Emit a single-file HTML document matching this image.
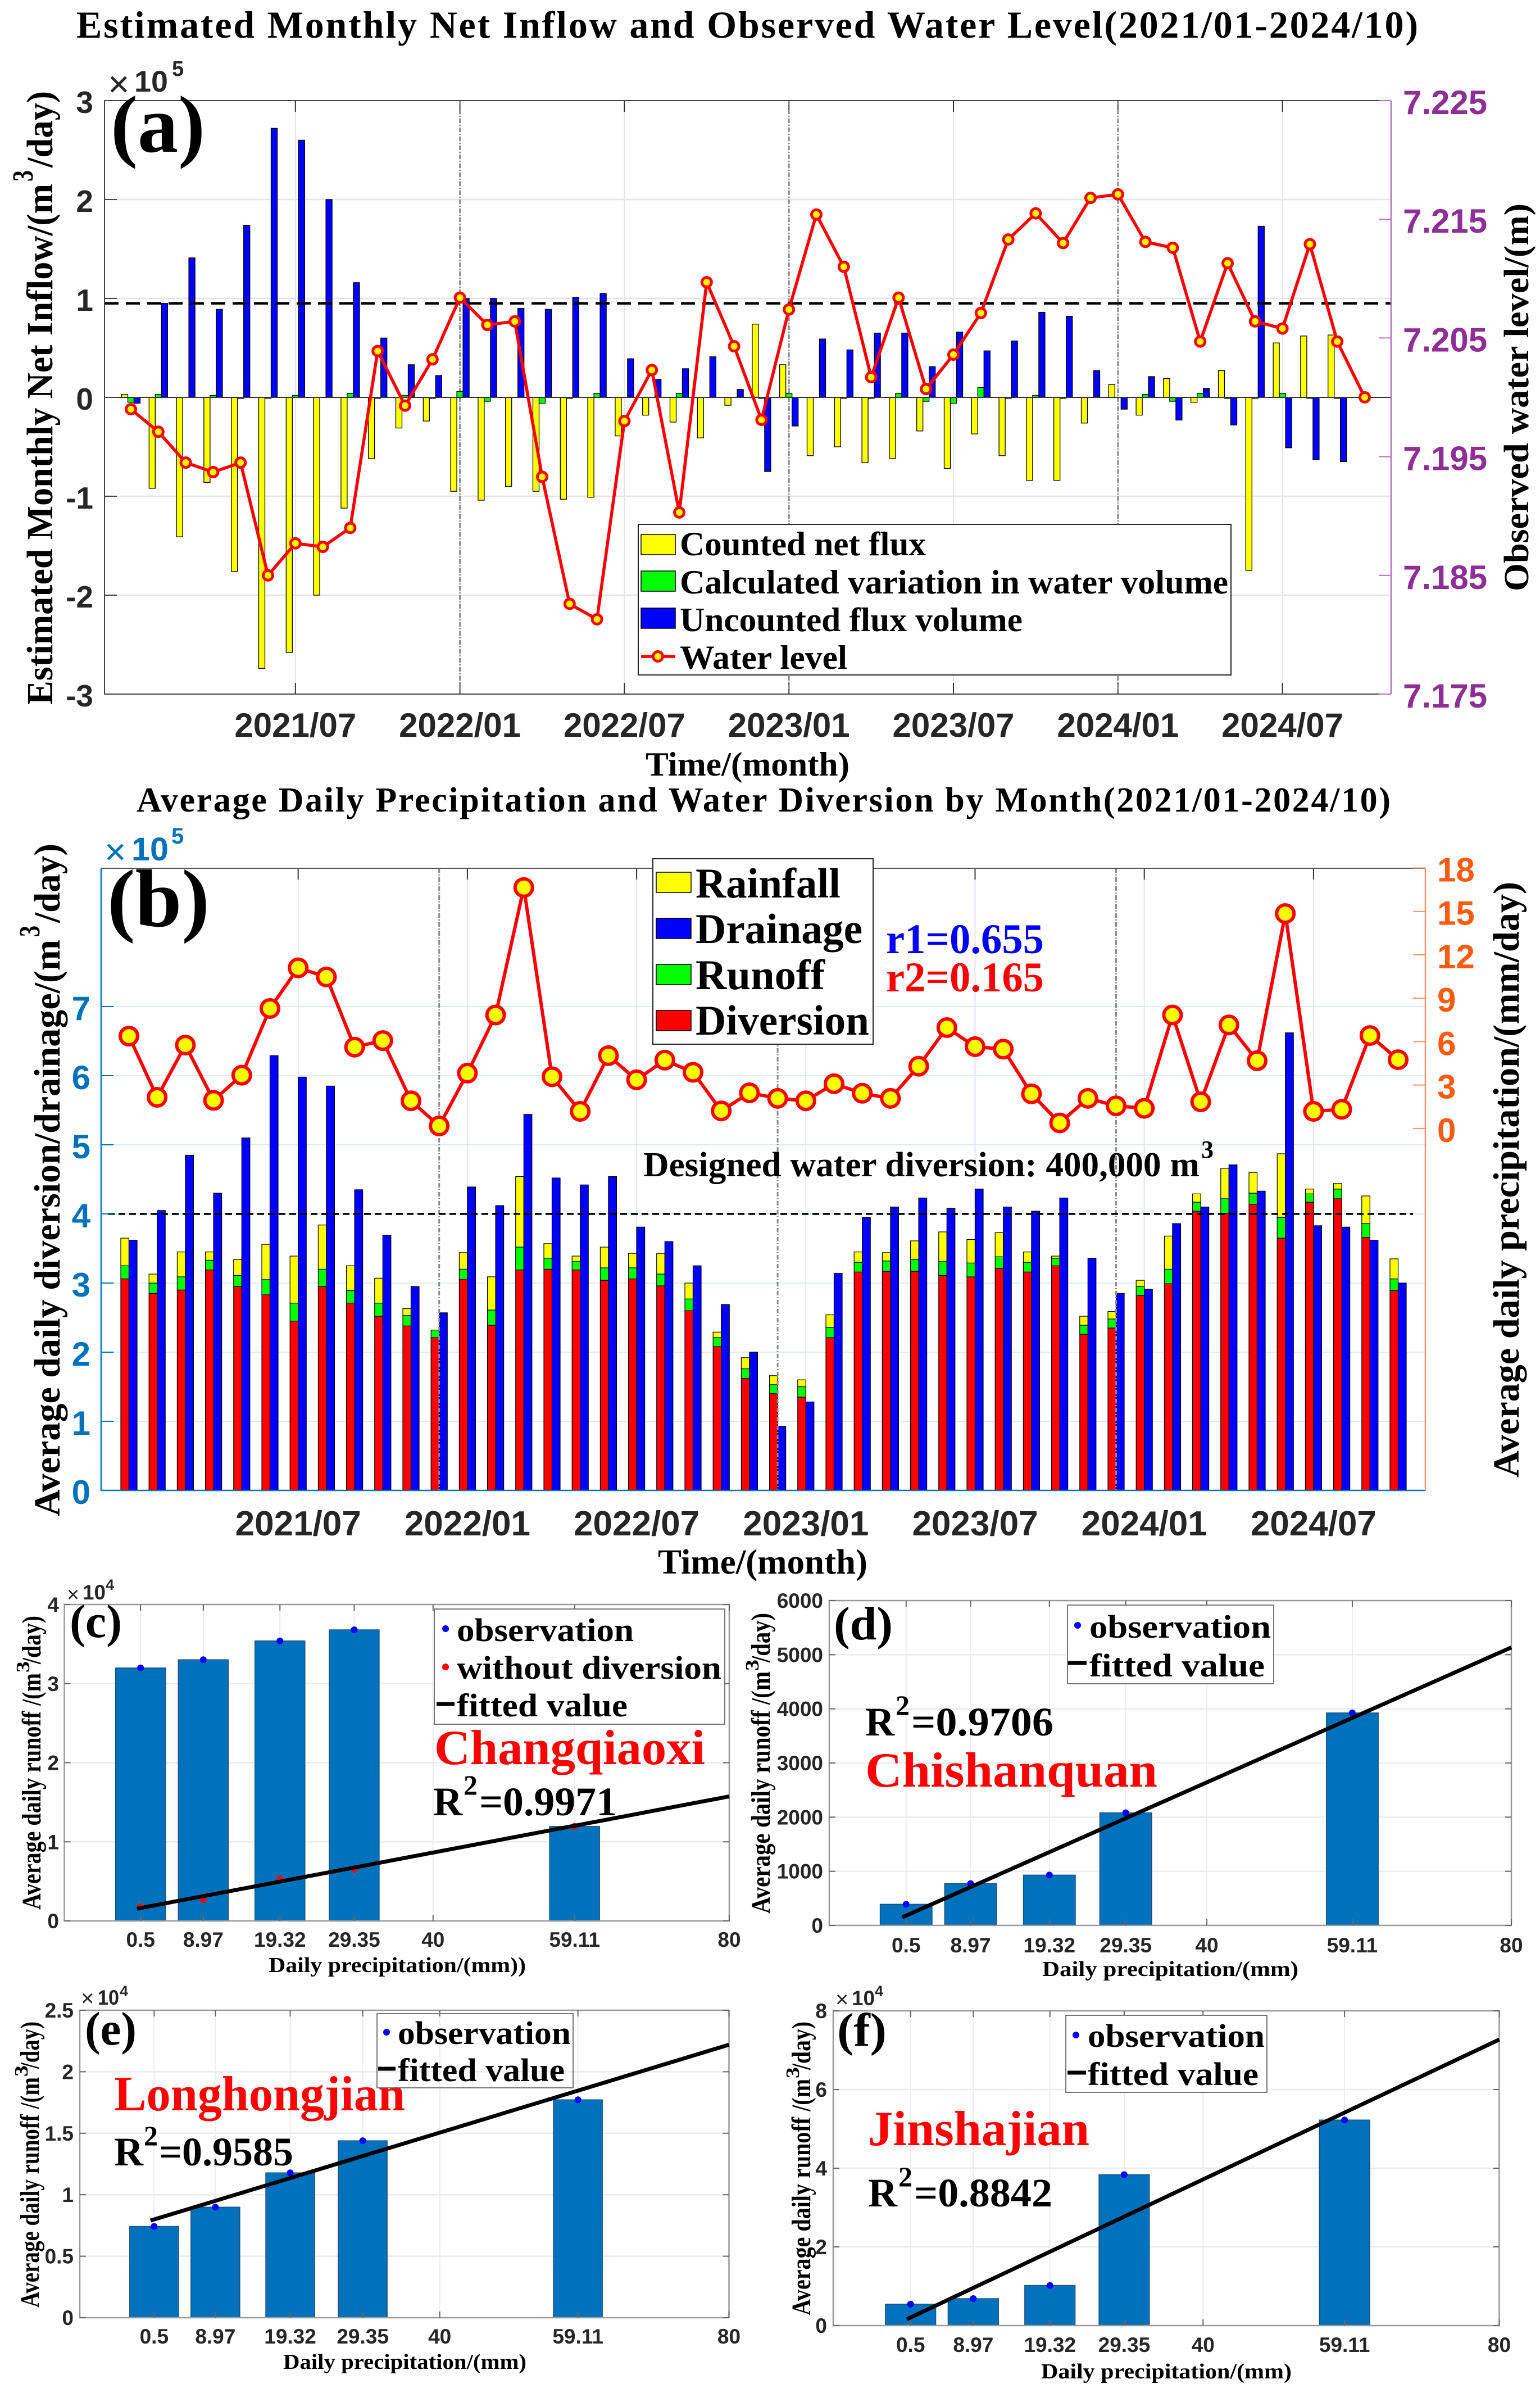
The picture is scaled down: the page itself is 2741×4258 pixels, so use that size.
<!DOCTYPE html>
<html lang="en">
<head>
<meta charset="utf-8">
<title>Net inflow, water level, diversion and runoff charts</title>
<style>
html,body{margin:0;padding:0;background:#fff;}
svg{display:block;}
.serif{font-family:"Liberation Serif",serif;font-weight:bold;fill:#000;}
.sans{font-family:"Liberation Sans",sans-serif;font-weight:bold;fill:#262626;}
.thin{font-family:"Liberation Sans",sans-serif;font-weight:normal;fill:#262626;}
</style>
</head>
<body>
<svg id="root" xmlns="http://www.w3.org/2000/svg" width="2741" height="4258" viewBox="0 0 2741 4258">
<rect x="0" y="0" width="2741" height="4258" fill="#fff"/>

<text class="serif" x="136" y="67" font-size="68" textLength="2388" lengthAdjust="spacing">Estimated Monthly Net Inflow and Observed Water Level(2021/01-2024/10)</text>
<g id="panel-a"></g>
<text class="serif" x="197" y="270" font-size="144" textLength="168" lengthAdjust="spacingAndGlyphs">(a)</text>
<text class="thin" x="192" y="172" font-size="66">×</text>
<text class="sans" x="239" y="163" font-size="53" textLength="60" lengthAdjust="spacingAndGlyphs">10</text>
<text class="sans" x="306" y="135" font-size="38">5</text>
<text class="serif" transform="translate(93,1254) rotate(-90)" font-size="66" textLength="927" lengthAdjust="spacingAndGlyphs">Estimated Monthly Net Inflow/(m</text>
<text class="serif" transform="translate(58,323) rotate(-90)" font-size="52" textLength="20" lengthAdjust="spacingAndGlyphs">3</text>
<text class="serif" transform="translate(93,298) rotate(-90)" font-size="66" textLength="136" lengthAdjust="spacingAndGlyphs">/day)</text>
<text class="serif" transform="translate(2720,1052) rotate(-90)" font-size="62" textLength="690" lengthAdjust="spacingAndGlyphs">Observed water level/(m)</text>
<text class="serif" x="1149" y="1380" font-size="60" textLength="363" lengthAdjust="spacingAndGlyphs">Time/(month)</text>
<g>
  <rect x="1136" y="933" width="1055" height="268" fill="#fff" stroke="#262626" stroke-width="2"/>
  <rect x="1141" y="951" width="61" height="36" fill="#ffff00" stroke="#000" stroke-width="1.5"/>
  <rect x="1141" y="1016" width="61" height="36" fill="#00ff00" stroke="#000" stroke-width="1.5"/>
  <rect x="1141" y="1082" width="61" height="36" fill="#0000ff" stroke="#000" stroke-width="1.5"/>
  <line x1="1141" x2="1202" y1="1168" y2="1168" stroke="#ff0000" stroke-width="5.5"/>
  <circle cx="1171" cy="1168" r="8.5" fill="#ffff00" stroke="#ff0000" stroke-width="5"/>
  <text class="serif" x="1210" y="988" font-size="60" textLength="438" lengthAdjust="spacingAndGlyphs">Counted net flux</text>
  <text class="serif" x="1210" y="1056" font-size="60" textLength="976" lengthAdjust="spacingAndGlyphs">Calculated variation in water volume</text>
  <text class="serif" x="1210" y="1123" font-size="60" textLength="610" lengthAdjust="spacingAndGlyphs">Uncounted flux volume</text>
  <text class="serif" x="1210" y="1190" font-size="60" textLength="298" lengthAdjust="spacingAndGlyphs">Water level</text>
</g>

<text class="serif" x="243" y="1444" font-size="62" textLength="2232" lengthAdjust="spacing">Average Daily Precipitation and Water Diversion by Month(2021/01-2024/10)</text>
<g id="panel-b"></g>
<text class="serif" x="191" y="1648" font-size="146" textLength="182" lengthAdjust="spacingAndGlyphs">(b)</text>
<text class="thin" style="fill:#0072bd" x="186" y="1538" font-size="66">×</text>
<text class="sans" style="fill:#0072bd" x="234" y="1531" font-size="58" textLength="66" lengthAdjust="spacingAndGlyphs">10</text>
<text class="sans" style="fill:#0072bd" x="305" y="1501" font-size="40">5</text>
<text class="serif" transform="translate(106,2698) rotate(-90)" font-size="66" textLength="1026" lengthAdjust="spacingAndGlyphs">Average daily diversion/drainage/(m</text>
<text class="serif" transform="translate(70,1667) rotate(-90)" font-size="52" textLength="20" lengthAdjust="spacingAndGlyphs">3</text>
<text class="serif" transform="translate(106,1642) rotate(-90)" font-size="66" textLength="141" lengthAdjust="spacingAndGlyphs">/day)</text>
<text class="serif" transform="translate(2703,2629) rotate(-90)" font-size="66" textLength="1060" lengthAdjust="spacingAndGlyphs">Average daily precipitation/(mm/day)</text>
<text class="serif" x="1171" y="2800" font-size="62" textLength="373" lengthAdjust="spacingAndGlyphs">Time/(month)</text>
<text class="serif" x="1145" y="2093" font-size="62" textLength="990" lengthAdjust="spacingAndGlyphs">Designed water diversion: 400,000 m</text>
<text class="serif" x="2138" y="2060" font-size="44">3</text>
<text class="serif" style="fill:#0000ff" x="1577" y="1696" font-size="75" textLength="281" lengthAdjust="spacingAndGlyphs">r1=0.655</text>
<text class="serif" style="fill:#ff0000" x="1577" y="1764" font-size="75" textLength="281" lengthAdjust="spacingAndGlyphs">r2=0.165</text>
<g>
  <rect x="1162" y="1528" width="392" height="330" fill="#fff" stroke="#262626" stroke-width="2"/>
  <rect x="1168" y="1552" width="62" height="36" fill="#ffff00" stroke="#000" stroke-width="1.5"/>
  <rect x="1168" y="1634" width="62" height="36" fill="#0000ff" stroke="#000" stroke-width="1.5"/>
  <rect x="1168" y="1716" width="62" height="36" fill="#00ff00" stroke="#000" stroke-width="1.5"/>
  <rect x="1168" y="1798" width="62" height="36" fill="#ff0000" stroke="#000" stroke-width="1.5"/>
  <text class="serif" x="1238" y="1597" font-size="75" textLength="258" lengthAdjust="spacingAndGlyphs">Rainfall</text>
  <text class="serif" x="1238" y="1678" font-size="75" textLength="297" lengthAdjust="spacingAndGlyphs">Drainage</text>
  <text class="serif" x="1238" y="1760" font-size="75" textLength="230" lengthAdjust="spacingAndGlyphs">Runoff</text>
  <text class="serif" x="1238" y="1841" font-size="75" textLength="309" lengthAdjust="spacingAndGlyphs">Diversion</text>
</g>

<g id="panel-c"></g>
<text class="serif" x="124" y="2913" font-size="84" textLength="93" lengthAdjust="spacingAndGlyphs">(c)</text>
<text class="thin" x="119" y="2850" font-size="38">×</text>
<text class="sans" x="147" y="2846" font-size="37" textLength="41" lengthAdjust="spacingAndGlyphs">10</text>
<text class="sans" x="188" y="2829" font-size="27">4</text>
<text class="serif" transform="translate(72,3398) rotate(-90)" font-size="48" textLength="421" lengthAdjust="spacingAndGlyphs">Average daily runoff /(m</text>
<text class="serif" transform="translate(52,2976) rotate(-90)" font-size="34" textLength="20" lengthAdjust="spacingAndGlyphs">3</text>
<text class="serif" transform="translate(72,2961) rotate(-90)" font-size="48" textLength="86" lengthAdjust="spacingAndGlyphs">/day)</text>
<text class="serif" x="478" y="3509" font-size="38" textLength="458" lengthAdjust="spacingAndGlyphs">Daily precipitation/(mm))</text>
<g>
  <rect x="773" y="2863" width="517" height="205" fill="#fff" stroke="#777" stroke-width="2"/>
  <circle cx="793" cy="2898" r="6" fill="#0000ff"/>
  <circle cx="793" cy="2966" r="6" fill="#ff0000"/>
  <line x1="777" x2="809" y1="3032" y2="3032" stroke="#000" stroke-width="7"/>
  <text class="serif" x="813" y="2920" font-size="58" textLength="315" lengthAdjust="spacingAndGlyphs">observation</text>
  <text class="serif" x="813" y="2987" font-size="58" textLength="471" lengthAdjust="spacingAndGlyphs">without diversion</text>
  <text class="serif" x="813" y="3054" font-size="58" textLength="304" lengthAdjust="spacingAndGlyphs">fitted value</text>
</g>
<text class="serif" style="fill:#ff0000" x="773" y="3139" font-size="88" textLength="482" lengthAdjust="spacingAndGlyphs">Changqiaoxi</text>
<text class="serif" x="771" y="3230" font-size="72">R</text>
<text class="serif" x="825" y="3193" font-size="50">2</text>
<text class="serif" x="853" y="3230" font-size="72" textLength="245" lengthAdjust="spacingAndGlyphs">=0.9971</text>

<g id="panel-d"></g>
<text class="serif" x="1484" y="2917" font-size="84" textLength="105" lengthAdjust="spacingAndGlyphs">(d)</text>
<text class="serif" transform="translate(1370,3405) rotate(-90)" font-size="48" textLength="431" lengthAdjust="spacingAndGlyphs">Average daily runoff /(m</text>
<text class="serif" transform="translate(1350,2973) rotate(-90)" font-size="34" textLength="20" lengthAdjust="spacingAndGlyphs">3</text>
<text class="serif" transform="translate(1370,2958) rotate(-90)" font-size="48" textLength="88" lengthAdjust="spacingAndGlyphs">/day)</text>
<text class="serif" x="1855" y="3516" font-size="38" textLength="456" lengthAdjust="spacingAndGlyphs">Daily precipitation/(mm)</text>
<g>
  <rect x="1900" y="2856" width="367" height="140" fill="#fff" stroke="#777" stroke-width="2"/>
  <circle cx="1918" cy="2892" r="6" fill="#0000ff"/>
  <line x1="1901" x2="1934" y1="2959" y2="2959" stroke="#000" stroke-width="7"/>
  <text class="serif" x="1939" y="2914" font-size="58" textLength="323" lengthAdjust="spacingAndGlyphs">observation</text>
  <text class="serif" x="1939" y="2983" font-size="58" textLength="312" lengthAdjust="spacingAndGlyphs">fitted value</text>
</g>
<text class="serif" style="fill:#ff0000" x="1540" y="3179" font-size="88" textLength="520" lengthAdjust="spacingAndGlyphs">Chishanquan</text>
<text class="serif" x="1540" y="3088" font-size="72">R</text>
<text class="serif" x="1594" y="3051" font-size="50">2</text>
<text class="serif" x="1622" y="3088" font-size="72" textLength="253" lengthAdjust="spacingAndGlyphs">=0.9706</text>

<g id="panel-e"></g>
<text class="serif" x="151" y="3638" font-size="84" textLength="92" lengthAdjust="spacingAndGlyphs">(e)</text>
<text class="thin" x="144" y="3569" font-size="40">×</text>
<text class="sans" x="174" y="3567" font-size="37" textLength="38" lengthAdjust="spacingAndGlyphs">10</text>
<text class="sans" x="213" y="3552" font-size="27">4</text>
<text class="serif" transform="translate(69,4106) rotate(-90)" font-size="48" textLength="410" lengthAdjust="spacingAndGlyphs">Average daily runoff /(m</text>
<text class="serif" transform="translate(49,3695) rotate(-90)" font-size="34" textLength="20" lengthAdjust="spacingAndGlyphs">3</text>
<text class="serif" transform="translate(69,3681) rotate(-90)" font-size="48" textLength="84" lengthAdjust="spacingAndGlyphs">/day)</text>
<text class="serif" x="504" y="4215" font-size="38" textLength="433" lengthAdjust="spacingAndGlyphs">Daily precipitation/(mm)</text>
<text class="serif" style="fill:#ff0000" x="203" y="3755" font-size="88" textLength="518" lengthAdjust="spacingAndGlyphs">Longhongjian</text>
<g>
  <rect x="671" y="3583" width="349" height="132" fill="none" stroke="#777" stroke-width="2"/>
  <circle cx="688" cy="3616" r="6" fill="#0000ff"/>
  <line x1="673" x2="704" y1="3681" y2="3681" stroke="#000" stroke-width="7"/>
  <text class="serif" x="708" y="3637" font-size="58" textLength="308" lengthAdjust="spacingAndGlyphs">observation</text>
  <text class="serif" x="708" y="3703" font-size="58" textLength="297" lengthAdjust="spacingAndGlyphs">fitted value</text>
</g>
<text class="serif" x="203" y="3853" font-size="72">R</text>
<text class="serif" x="256" y="3817" font-size="50">2</text>
<text class="serif" x="283" y="3853" font-size="72" textLength="239" lengthAdjust="spacingAndGlyphs">=0.9585</text>

<g id="panel-f"></g>
<text class="serif" x="1490" y="3640" font-size="84" textLength="88" lengthAdjust="spacingAndGlyphs">(f)</text>
<text class="thin" x="1487" y="3571" font-size="40">×</text>
<text class="sans" x="1516" y="3568" font-size="37" textLength="41" lengthAdjust="spacingAndGlyphs">10</text>
<text class="sans" x="1557" y="3552" font-size="27">4</text>
<text class="serif" transform="translate(1442,4120) rotate(-90)" font-size="48" textLength="421" lengthAdjust="spacingAndGlyphs">Average daily runoff /(m</text>
<text class="serif" transform="translate(1422,3698) rotate(-90)" font-size="34" textLength="20" lengthAdjust="spacingAndGlyphs">3</text>
<text class="serif" transform="translate(1442,3683) rotate(-90)" font-size="48" textLength="86" lengthAdjust="spacingAndGlyphs">/day)</text>
<text class="serif" x="1853" y="4232" font-size="38" textLength="446" lengthAdjust="spacingAndGlyphs">Daily precipitation/(mm)</text>
<g>
  <rect x="1897" y="3586" width="358" height="137" fill="#fff" stroke="#777" stroke-width="2"/>
  <circle cx="1915" cy="3621" r="6" fill="#0000ff"/>
  <line x1="1900" x2="1933" y1="3688" y2="3688" stroke="#000" stroke-width="7"/>
  <text class="serif" x="1936" y="3642" font-size="58" textLength="315" lengthAdjust="spacingAndGlyphs">observation</text>
  <text class="serif" x="1936" y="3710" font-size="58" textLength="304" lengthAdjust="spacingAndGlyphs">fitted value</text>
</g>
<text class="serif" style="fill:#ff0000" x="1545" y="3817" font-size="88" textLength="394" lengthAdjust="spacingAndGlyphs">Jinshajian</text>
<text class="serif" x="1545" y="3926" font-size="72">R</text>
<text class="serif" x="1599" y="3890" font-size="50">2</text>
<text class="serif" x="1627" y="3926" font-size="72" textLength="246" lengthAdjust="spacingAndGlyphs">=0.8842</text>
</svg>

<script>
// ---------- Panel (a) data ----------
const aCounted = [0.03,-0.92,-1.41,-0.86,-1.76,-2.74,-2.58,-2.0,-1.12,-0.62,-0.31,-0.24,-0.95,-1.04,-0.9,-0.95,-1.03,-1.01,-0.39,-0.18,-0.25,-0.41,-0.08,0.74,0.33,-0.59,-0.5,-0.66,-0.62,-0.34,-0.72,-0.37,-0.59,-0.84,-0.84,-0.26,0.13,-0.18,0.19,-0.05,0.27,-1.75,0.55,0.62,0.63];
const aCalculated = [-0.05,0.03,0,0.02,-0.01,-0.01,0.02,0,0.04,-0.01,0.02,-0.01,0.06,-0.04,0,-0.06,-0.01,0.04,0,0,0.04,0,0,-0.01,0.04,0,-0.01,-0.01,0.04,-0.04,-0.06,0.1,-0.01,0.02,-0.01,0,0,0.03,-0.04,0.04,-0.01,-0.01,0.04,-0.01,-0.01];
const aUncounted = [-0.06,0.95,1.41,0.89,1.74,2.72,2.6,2.0,1.16,0.6,0.33,0.22,1.0,1.0,0.9,0.89,1.01,1.05,0.39,0.18,0.29,0.41,0.08,-0.75,-0.29,0.59,0.48,0.65,0.65,0.31,0.66,0.47,0.57,0.86,0.82,0.27,-0.12,0.21,-0.23,0.09,-0.28,1.73,-0.51,-0.63,-0.65];
const aWaterLevel = [7.1990,7.1971,7.1945,7.1937,7.1945,7.1850,7.1877,7.1874,7.1890,7.2039,7.1993,7.2032,7.2084,7.2061,7.2064,7.1933,7.1826,7.1813,7.1980,7.2023,7.1903,7.2097,7.2043,7.1981,7.2074,7.2154,7.2110,7.2017,7.2084,7.2007,7.2036,7.2071,7.2133,7.2155,7.2130,7.2168,7.2171,7.2131,7.2126,7.2047,7.2113,7.2064,7.2058,7.2129,7.2047,7.2000];
const aReference = [0.95];
const aYTicks = [-3,-2,-1,0,1,2,3];
const aLevelTicks = [7.175,7.185,7.195,7.205,7.215,7.225];
const monthTickIndex = [6,12,18,24,30,36,42];
const monthTickLabels = ['2021/07','2022/01','2022/07','2023/01','2023/07','2024/01','2024/07'];
const aYearMarks = [12,24,36];

// ---------- Panel (b) data ----------
const bDiversion = [3.06,2.85,2.90,3.19,2.95,2.83,2.45,2.95,2.71,2.52,2.38,2.21,3.05,2.39,3.19,3.20,3.19,3.04,3.06,2.96,2.60,2.08,1.62,1.40,1.35,2.21,3.16,3.17,3.17,3.11,3.09,3.21,3.16,3.25,2.26,2.35,2.82,2.99,4.04,4.01,4.14,3.65,4.17,4.22,3.66,2.89];
const bRunoff = [.19,.15,.19,.14,.16,.22,.26,.25,.18,.19,.15,.11,.15,.22,.33,.16,.12,.18,.16,.17,.17,.13,.14,.13,.15,.15,.14,.15,.17,.20,.20,.17,.14,.11,.13,.13,.13,.21,.13,.21,.16,.30,.12,.14,.20,.17];
const bRainfall = [.40,.13,.36,.12,.23,.51,.68,.64,.36,.36,.10,.0,.24,.48,1.02,.21,.08,.30,.21,.30,.23,.08,.16,.13,.10,.18,.15,.12,.27,.43,.34,.35,.15,.03,.13,.11,.09,.48,.12,.44,.30,.92,.07,.08,.40,.29];
const bDrainage = [3.62,4.05,4.85,4.30,5.10,6.29,5.98,5.85,4.35,3.69,2.95,2.57,4.39,4.12,5.44,4.52,4.42,4.54,3.81,3.60,3.25,2.69,2.00,.93,1.28,3.14,3.95,4.10,4.23,4.08,4.36,4.10,4.04,4.23,3.36,2.85,2.91,3.86,4.10,4.71,4.33,6.62,3.83,3.81,3.62,3.0];
const bPrecip = [6.38,2.15,5.76,1.94,3.68,8.29,11.1,10.47,5.62,6.07,1.91,0.17,3.82,7.84,16.65,3.57,1.18,5.03,3.36,4.72,3.88,1.21,2.46,2.08,1.91,3.09,2.43,2.08,4.30,6.97,5.65,5.48,2.39,0.38,2.08,1.56,1.39,7.84,1.84,7.15,4.68,14.85,1.18,1.32,6.42,4.75];
const bDesign = [4];
const bYTicks = [0,1,2,3,4,5,6,7];
const bPrecipTicks = [0,3,6,9,12,15,18];
const bYearMarks = [11,23,35];

// ---------- Panels (c)-(f) data ----------
const rainX = [0.5,8.97,19.32,29.35,59.11];
const rainTicks = [0.5,8.97,19.32,29.35,40,59.11,80];
const cObserved = [3.198,3.302,3.54,3.68,1.195];
const cWithout = [0.178,0.268,0.53,0.654,1.195];
const cFitX = [0,80];
const cFitY = [0.154,1.574];
const cTicks = [0,1,2,3,4];
const dObserved = [391,772,930,2080,3925];
const dFitX = [0,80];
const dFitY = [150,5135];
const dTicks = [0,1000,2000,3000,4000,5000,6000];
const eObserved = [0.742,0.899,1.178,1.439,1.772];
const eFitX = [0,80];
const eFitY = [0.79,2.22];
const eTicks = [0,0.5,1,1.5,2,2.5];
const fObserved = [0.544,0.685,1.02,3.835,5.225];
const fFitX = [0,80];
const fFitY = [0.16,7.27];
const fTicks = [0,2,4,6,8];

const NS = 'http://www.w3.org/2000/svg';
function add(parent, tag, attrs) {
  const el = document.createElementNS(NS, tag);
  for (const k in attrs) el.setAttribute(k, attrs[k]);
  parent.appendChild(el);
  return el;
}
function label(parent, x, y, str, size, anchor, color) {
  const t = add(parent, 'text', {x: x, y: y, 'font-size': size, 'text-anchor': anchor, 'class': 'sans', style: 'fill:' + color});
  t.textContent = str;
  return t;
}

// ---------- Draw panel (a) ----------
(function () {
  const g = document.getElementById('panel-a');
  const L = 186, R = 2476, T = 179, B = 1235;
  const x = i => 233 + 48.8 * i;
  const y = v => 707 - (v) * 176;
  const yL = v => B - (v - 7.175) / 0.05 * (B - T);
  aYTicks.forEach(v => {
    if (v === 3 || v === -3 || v === 0) return;
    const l = add(g, 'line', {x1: L, x2: R, y1: y(v), y2: y(v), stroke: '#e4e4e4', 'stroke-width': 2.5});
    
    
  });
  monthTickIndex.forEach(i => {
    const l = add(g, 'line', {x1: x(i), x2: x(i), y1: T, y2: B, stroke: '#e4e4e4', 'stroke-width': 2});
    
    
    const t1 = add(g, 'line', {x1: x(i), x2: x(i), y1: T, y2: T + 20, stroke: '#333', 'stroke-width': 2});
    
    
    const t2 = add(g, 'line', {x1: x(i), x2: x(i), y1: B, y2: B - 20, stroke: '#333', 'stroke-width': 2});
    
    
  });
  aYearMarks.forEach(i => {
    const l = add(g, 'line', {x1: x(i), x2: x(i), y1: T, y2: B, stroke: '#8a8a8a', 'stroke-width': 3, 'stroke-dasharray': '8 3 2 3'});
    
    
  });
  const series = [[aCounted, -11, '#ffff00', 'counted-bar'], [aCalculated, 0, '#00ff00', 'calculated-bar'], [aUncounted, 11, '#0000ff', 'uncounted-bar']];
  series.forEach(s => {
    s[0].forEach((v, i) => {
      const r = add(g, 'rect', {x: x(i) + s[1] - 5.5, y: Math.min(y(v), y(0)), width: 11, height: Math.abs(y(v) - y(0)), fill: s[2], stroke: '#000', 'stroke-width': 1.3});
      
      
    });
  });
  const zero = add(g, 'line', {x1: L, x2: R, y1: y(0), y2: y(0), stroke: '#333', 'stroke-width': 2});
  
  
  const ref = add(g, 'line', {x1: L, x2: R, y1: y(aReference[0]), y2: y(aReference[0]), stroke: '#000', 'stroke-width': 4.5, 'stroke-dasharray': '25 13'});
  
  
  const line = add(g, 'polyline', {points: aWaterLevel.map((v, i) => x(i) + ',' + yL(v)).join(' '), fill: 'none', stroke: '#ff0000', 'stroke-width': 5.5});
  
  
  aWaterLevel.forEach((v, i) => {
    const c = add(g, 'circle', {cx: x(i), cy: yL(v), r: 8.5, fill: '#ffff00', stroke: '#ff0000', 'stroke-width': 5});
    
    
  });
  const box = add(g, 'path', {d: 'M' + R + ' ' + T + 'H' + L + 'V' + B + 'H' + R, fill: 'none', stroke: '#444', 'stroke-width': 2});
  
  
  const rAxis = add(g, 'line', {x1: R, x2: R, y1: T, y2: B, stroke: '#b56fc2', 'stroke-width': 2.5});
  
  
  aYTicks.forEach(v => {
    const t = add(g, 'line', {x1: L, x2: L + 22, y1: y(v), y2: y(v), stroke: '#444', 'stroke-width': 2});
    
    
    const s = label(g, 166, y(v) + 22, String(v), 55, 'end', '#262626');
    
    
  });
  aLevelTicks.forEach(v => {
    const t = add(g, 'line', {x1: R - 22, x2: R, y1: yL(v), y2: yL(v), stroke: '#b56fc2', 'stroke-width': 2});
    
    
    const s = label(g, 2497, yL(v) + 24, v.toFixed(3), 60, 'start', '#8e2e96');
    
    
  });
  monthTickIndex.forEach((i, k) => {
    const s = label(g, x(i), 1311, monthTickLabels[k], 60, 'middle', '#262626');
    
    
  });
})();

// ---------- Draw panel (b) ----------
(function () {
  const g = document.getElementById('panel-b');
  const L = 180, R = 2537, T = 1545, B = 2652;
  const x = i => 229.5 + 50.2 * i;
  const y = v => B - v * 123;
  const yP = v => 1390 + (692 - v * 28.83) / 1.12;
  bYTicks.forEach(v => {
    if (v === 0) return;
    const l = add(g, 'line', {x1: L, x2: R, y1: y(v), y2: y(v), stroke: '#dcebf5', 'stroke-width': 2});
    
    
  });
  monthTickIndex.forEach(i => {
    const l = add(g, 'line', {x1: x(i), x2: x(i), y1: T, y2: B, stroke: '#e2e6ec', 'stroke-width': 2});
    
    
    const t = add(g, 'line', {x1: x(i), x2: x(i), y1: T, y2: T + 20, stroke: '#333', 'stroke-width': 2});
    
    
  });
  bDiversion.forEach((v, i) => {
    const green = v + bRunoff[i], yel = green + bRainfall[i];
    const rr = add(g, 'rect', {x: x(i) - 14.5, y: y(v), width: 14.5, height: y(0) - y(v), fill: '#ff0000', stroke: '#000', 'stroke-width': 1.2});
    
    
    const rg = add(g, 'rect', {x: x(i) - 14.5, y: y(green), width: 14.5, height: y(v) - y(green), fill: '#00ff00', stroke: '#000', 'stroke-width': 1.2});
    
    
    const ry = add(g, 'rect', {x: x(i) - 14.5, y: y(yel), width: 14.5, height: y(green) - y(yel), fill: '#ffff00', stroke: '#000', 'stroke-width': 1.2});
    
    
    const rb = add(g, 'rect', {x: x(i), y: y(bDrainage[i]), width: 14.5, height: y(0) - y(bDrainage[i]), fill: '#0000ff', stroke: '#000', 'stroke-width': 1.2});
    
    
  });
  bYearMarks.forEach(i => {
    const l = add(g, 'line', {x1: x(i), x2: x(i), y1: T, y2: B, stroke: '#8a8a8a', 'stroke-width': 3, 'stroke-dasharray': '8 3 2 3'});
    
    
  });
  const ref = add(g, 'line', {x1: 192, x2: 2515, y1: y(bDesign[0]), y2: y(bDesign[0]), stroke: '#000', 'stroke-width': 3.5, 'stroke-dasharray': '12 7'});
  
  
  const line = add(g, 'polyline', {points: bPrecip.map((v, i) => x(i) + ',' + yP(v)).join(' '), fill: 'none', stroke: '#ff0000', 'stroke-width': 6});
  
  
  bPrecip.forEach((v, i) => {
    const c = add(g, 'circle', {cx: x(i), cy: yP(v), r: 15.5, fill: '#ffff00', stroke: '#ff0000', 'stroke-width': 6});
    
    
  });
  const top = add(g, 'line', {x1: L, x2: R, y1: T, y2: T, stroke: '#555', 'stroke-width': 2});
  
  
  const left = add(g, 'path', {d: 'M' + L + ' ' + T + 'V' + B + 'H' + R, fill: 'none', stroke: '#0072bd', 'stroke-width': 2.5});
  
  
  const right = add(g, 'line', {x1: R, x2: R, y1: T, y2: B, stroke: '#f9906a', 'stroke-width': 2.5});
  
  
  bYTicks.forEach(v => {
    const t = add(g, 'line', {x1: L, x2: L + 22, y1: y(v), y2: y(v), stroke: '#0072bd', 'stroke-width': 2});
    
    
    const s = label(g, 161, y(v) + 24, String(v), 60, 'end', '#0072bd');
    
    
  });
  bPrecipTicks.forEach(v => {
    const t = add(g, 'line', {x1: R - 22, x2: R, y1: yP(v), y2: yP(v), stroke: '#f9906a', 'stroke-width': 2});
    
    
    const s = label(g, 2558, yP(v) + 24, String(v), 60, 'start', '#ff5a10');
    
    
  });
  monthTickIndex.forEach((i, k) => {
    const s = label(g, x(i), 2732, monthTickLabels[k], 62, 'middle', '#262626');
    
    
  });
})();

// ---------- Draw runoff panels (c)-(f) ----------
function drawRunoff(id, box, xScale, yMax, barW, labelRight, labelBase, observed, without, fitX, fitY, yTicks) {
  const g = document.getElementById(id);
  const x = v => box.R - (80 - v) * xScale;
  const y = v => box.B - v / yMax * (box.B - box.T);
  yTicks.forEach(v => {
    if (v === 0 || v === yMax) return;
    const l = add(g, 'line', {x1: box.L, x2: box.R, y1: y(v), y2: y(v), stroke: '#ececec', 'stroke-width': 2.5});
    
    
  });
  rainTicks.forEach(v => {
    if (v === 80) return;
    const l = add(g, 'line', {x1: x(v), x2: x(v), y1: box.T, y2: box.B, stroke: '#ececec', 'stroke-width': 2});
    
    
  });
  observed.forEach((v, i) => {
    const r = add(g, 'rect', {x: x(rainX[i]) - barW / 2, y: y(v), width: barW, height: y(0) - y(v), fill: '#0072bd', stroke: '#1d4f78', 'stroke-width': 1.5});
    
    
  });
  const box1 = add(g, 'rect', {x: box.L, y: box.T, width: box.R - box.L, height: box.B - box.T, fill: 'none', stroke: '#999', 'stroke-width': 2.5});
  
  
  rainTicks.forEach(v => {
    const t = add(g, 'line', {x1: x(v), x2: x(v), y1: box.T, y2: box.T + 11, stroke: '#666', 'stroke-width': 2});
    
    
    const b = add(g, 'line', {x1: x(v), x2: x(v), y1: box.B - 11, y2: box.B, stroke: '#666', 'stroke-width': 2});
    
    
    const s = label(g, x(v), labelBase, String(v), 37, 'middle', '#262626');
    
    
  });
  yTicks.forEach(v => {
    const a = add(g, 'line', {x1: box.L, x2: box.L + 11, y1: y(v), y2: y(v), stroke: '#666', 'stroke-width': 2});
    
    
    const b = add(g, 'line', {x1: box.R - 11, x2: box.R, y1: y(v), y2: y(v), stroke: '#666', 'stroke-width': 2});
    
    
    const s = label(g, labelRight, y(v) + 13, String(v), 37, 'end', '#262626');
    
    
  });
  observed.forEach((v, i) => {
    const c = add(g, 'circle', {cx: x(rainX[i]), cy: y(v), r: 6, fill: '#0000ff'});
    
    
  });
  without.forEach((v, i) => {
    const c = add(g, 'circle', {cx: x(rainX[i]), cy: y(v), r: 6, fill: '#ff0000'});
    
    
  });
  const fit = add(g, 'line', {x1: x(fitX[0]), y1: y(fitY[0]), x2: x(fitX[1]), y2: y(fitY[1]), stroke: '#000', 'stroke-width': 7});
  
  
}
drawRunoff('panel-c', {L: 114.5, R: 1298, T: 2855, B: 3418}, 13.18, 4, 89, 105, 3464, cObserved, cWithout, cFitX, cFitY, cTicks);
drawRunoff('panel-d', {L: 1476, R: 2690, T: 2848, B: 3426}, 13.55, 6000, 92.4, 1465, 3474, dObserved, [], dFitX, dFitY, dTicks);
drawRunoff('panel-e', {L: 142, R: 1297.5, T: 3577, B: 4124}, 12.87, 2.5, 87, 131, 4170, eObserved, [], eFitX, eFitY, eTicks);
drawRunoff('panel-f', {L: 1483, R: 2668.5, T: 3578, B: 4138}, 13.18, 8, 89.7, 1472, 4185, fObserved, [], fFitX, fFitY, fTicks);
</script>
</body>
</html>
